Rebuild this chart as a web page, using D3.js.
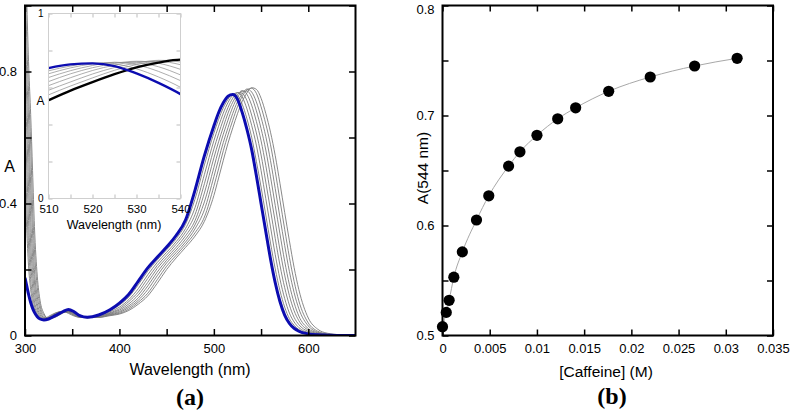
<!DOCTYPE html>
<html><head><meta charset="utf-8">
<script src="https://cdn.jsdelivr.net/npm/d3@7"></script>
<style>body{margin:0;background:#fff}</style>
</head><body>
<svg id="c" width="791" height="418"></svg>
<script>
// ---------- DATA: panel (a) absorption spectra ----------
const wavelengths = [300,302,304,306,308,310,313,316,320,325,332,340,346,352,358,366,378,390,
  400,410,420,430,440,450,460,470,480,490,500,
  505,510,515,520,525,530,535,540,545,550,555,560,565,570,575,580,585,590,
  600,610,620,635,650];
// first spectrum (no caffeine)
const spectrum0 = [1.25,1.00,0.81,0.67,0.50,0.33,0.18,0.105,0.067,0.051,0.055,0.068,0.074,0.071,0.062,0.055,0.055,0.060,
  0.065,0.076,0.095,0.120,0.158,0.200,0.235,0.267,0.301,0.346,0.424,
  0.477,0.531,0.583,0.629,0.672,0.709,0.735,0.751,0.746,0.719,0.673,0.616,0.545,0.461,0.373,0.287,0.206,0.139,
  0.053,0.019,0.007,0.002,0];
const spectrum1 = [1.09,0.88,0.72,0.58,0.39,0.26,0.145,0.09,0.062,0.051,0.057,0.069,0.073,0.069,0.061,0.055,0.055,0.062,
  0.067,0.080,0.101,0.128,0.169,0.210,0.243,0.275,0.311,0.359,0.452,
  0.505,0.560,0.608,0.652,0.693,0.724,0.744,0.749,0.734,0.693,0.641,0.578,0.497,0.410,0.322,0.237,0.164,0.105,
  0.038,0.013,0.005,0.0015,0];
const spectrum2 = [0.96,0.78,0.64,0.46,0.31,0.20,0.117,0.079,0.057,0.050,0.059,0.070,0.073,0.067,0.059,0.055,0.056,0.063,
  0.070,0.085,0.107,0.139,0.181,0.220,0.251,0.283,0.323,0.381,0.481,
  0.534,0.585,0.630,0.673,0.708,0.732,0.747,0.738,0.708,0.661,0.603,0.530,0.445,0.358,0.273,0.194,0.130,0.081,
  0.029,0.010,0.004,0.0012,0];
const spectrum3 = [0.85,0.70,0.54,0.36,0.24,0.162,0.097,0.070,0.054,0.051,0.061,0.072,0.072,0.066,0.058,0.054,0.057,0.065,
  0.073,0.090,0.114,0.150,0.192,0.228,0.259,0.292,0.335,0.405,0.509,
  0.562,0.610,0.653,0.692,0.721,0.740,0.741,0.723,0.681,0.627,0.562,0.481,0.394,0.308,0.225,0.154,0.099,0.059,
  0.021,0.008,0.003,0.001,0];
const spectrum4 = [0.75,0.61,0.43,0.28,0.19,0.13,0.084,0.063,0.052,0.052,0.063,0.073,0.072,0.064,0.057,0.054,0.057,0.067,
  0.077,0.096,0.123,0.161,0.203,0.236,0.267,0.302,0.348,0.432,0.538,
  0.587,0.632,0.674,0.707,0.730,0.742,0.731,0.698,0.649,0.590,0.515,0.430,0.344,0.259,0.183,0.121,0.075,0.045,
  0.016,0.006,0.002,0.0008,0];
const spectrum5 = [0.67,0.50,0.33,0.22,0.15,0.105,0.074,0.058,0.051,0.054,0.065,0.074,0.071,0.062,0.056,0.054,0.058,0.069,
  0.081,0.103,0.132,0.173,0.212,0.244,0.276,0.313,0.366,0.460,0.565,
  0.611,0.654,0.691,0.719,0.736,0.734,0.712,0.668,0.614,0.547,0.465,0.380,0.294,0.213,0.145,0.092,0.055,0.033,
  0.012,0.005,0.002,0.0006,0];
const spectrum6 = [0.58,0.39,0.26,0.17,0.121,0.09,0.066,0.055,0.050,0.055,0.067,0.073,0.069,0.061,0.055,0.054,0.059,0.072,
  0.086,0.109,0.142,0.184,0.221,0.252,0.284,0.324,0.387,0.488,0.590,
  0.634,0.674,0.706,0.728,0.736,0.723,0.687,0.637,0.577,0.500,0.415,0.329,0.245,0.171,0.112,0.068,0.041,0.024,
  0.009,0.004,0.002,0.0004,0];
const spectrum7 = [0.46,0.31,0.20,0.14,0.10,0.079,0.061,0.053,0.050,0.058,0.068,0.073,0.067,0.059,0.055,0.054,0.060,0.075,
  0.092,0.117,0.154,0.195,0.229,0.260,0.293,0.337,0.413,0.517,0.613,
  0.655,0.690,0.716,0.732,0.727,0.701,0.657,0.601,0.528,0.450,0.365,0.280,0.202,0.136,0.086,0.051,0.031,0.018,
  0.007,0.003,0.001,0.0002,0];
// final spectrum (blue)
const spectrum8 = [0.175,0.148,0.122,0.10,0.083,0.07,0.057,0.05,0.047,0.05,0.06,0.072,0.079,0.072,0.06,0.055,0.062,0.078,
  0.098,0.125,0.165,0.205,0.237,0.268,0.303,0.35,0.44,0.545,0.635,
  0.675,0.705,0.725,0.730,0.716,0.676,0.625,0.564,0.485,0.40,0.315,0.232,0.16,0.103,0.062,0.037,0.022,0.013,
  0.005,0.002,0.001,0,0];
const spectra = [spectrum0,spectrum1,spectrum2,spectrum3,spectrum4,spectrum5,spectrum6,spectrum7,spectrum8];

const xTicksA = [300,350,400,450,500,550,600];
const xLabelsA = [300,400,500,600];
const yTicksA = [0,0.2,0.4,0.6,0.8,1.0];
const yLabelsA = [0,0.4,0.8];
const xTicksInset = [510,515,520,525,530,535,540];
const xLabelsInset = [510,520,530,540];
const yTicksInset = [0,0.2,0.4,0.6,0.8,1.0];
const yLabelsInset = [0,1];

// ---------- DATA: panel (b) ----------
const caffeine = [0,0.0004,0.0007,0.0012,0.0021,0.0036,0.0049,0.0070,0.0082,0.0100,0.0122,0.0141,0.0176,0.0220,0.0267,0.0312];
const absorbance544 = [0.508,0.521,0.532,0.553,0.576,0.605,0.627,0.654,0.667,0.682,0.697,0.707,0.722,0.735,0.745,0.752];
const xTicksB = [0,0.005,0.01,0.015,0.02,0.025,0.03,0.035];
const xLabelsB = ["0","0.005","0.01","0.015","0.02","0.025","0.03","0.035"];
const yTicksB = [0.5,0.55,0.6,0.65,0.7,0.75,0.8];
const yLabelsB = [0.5,0.6,0.7,0.8];

// ---------- DRAW ----------
const FONT = "'Liberation Sans', Arial, Helvetica, sans-serif";
const svg = d3.select("#c");

function drawAxes(g, x, y, o) {
  const [x0,x1] = x.range(), [y0,y1] = y.range();
  const axes = [];
  axes.push(g.append("g").attr("transform",`translate(0,${y0})`)
    .call(d3.axisBottom(x).tickValues(o.xTicks).tickSize(-o.len).tickPadding(o.padX)
      .tickFormat(o.xFmt)));
  axes.push(g.append("g").attr("transform",`translate(0,${y1})`)
    .call(d3.axisTop(x).tickValues(o.xTicks).tickSize(-o.len).tickFormat("")));
  const left = g.append("g").attr("transform",`translate(${x0},0)`)
    .call(d3.axisLeft(y).tickValues(o.yTicks).tickSize(-o.len).tickPadding(o.padY)
      .tickFormat(o.yFmt));
  axes.push(left);
  axes.push(g.append("g").attr("transform",`translate(${x1},0)`)
    .call(d3.axisRight(y).tickValues(o.yTicks).tickSize(-o.len).tickFormat("")));
  axes.forEach(a => {
    a.select(".domain").remove();
    a.selectAll("line").attr("stroke",o.tickColor).attr("stroke-width",o.tickW);
    a.selectAll("text").attr("font-family",FONT).attr("font-size",o.fs).attr("fill","#000");
  });
  g.append("rect").attr("x",x0).attr("y",y1).attr("width",x1-x0).attr("height",y0-y1)
    .attr("fill","none").attr("stroke",o.frameColor).attr("stroke-width",o.frameW);
  return left;
}

// ---- Panel (a) ----
const xA = d3.scaleLinear().domain([300,650]).range([25,355.5]);
const yA = d3.scaleLinear().domain([0,1]).range([335.5,5.5]);
const gA = svg.append("g");
svg.append("defs").append("clipPath").attr("id","clipA").append("rect")
  .attr("x",25).attr("y",5.5).attr("width",330.5).attr("height",330);
const lineA = d3.line().x((d,i)=>xA(wavelengths[i])).y(d=>yA(d)).curve(d3.curveMonotoneX);
const curvesA = gA.append("g").attr("clip-path","url(#clipA)");
spectra.forEach((s,k) => {
  if (k === 8) return;
  curvesA.append("path").attr("d", lineA(s)).attr("fill","none")
    .attr("stroke","#7a7a7a").attr("stroke-width",0.9);
});
curvesA.append("path").attr("d", lineA(spectrum8)).attr("fill","none")
  .attr("stroke","#0c0cb0").attr("stroke-width",3);

drawAxes(gA, xA, yA, {xTicks:xTicksA, yTicks:yTicksA, len:6.5, padX:8, padY:8,
  xFmt: d => xLabelsA.includes(d) ? String(d) : "",
  yFmt: d => yLabelsA.some(v=>Math.abs(v-d)<1e-9) ? (d===0?"0":d.toFixed(1)) : "",
  tickColor:"#000", tickW:1.5, fs:13, frameColor:"#000", frameW:2});

gA.append("text").attr("x",190).attr("y",375).attr("text-anchor","middle")
  .attr("font-family",FONT).attr("font-size",16).text("Wavelength (nm)");
gA.append("text").attr("x",9.5).attr("y",172).attr("text-anchor","middle")
  .attr("font-family",FONT).attr("font-size",16).text("A");
gA.append("text").attr("x",190).attr("y",405).attr("text-anchor","middle")
  .attr("font-family","'Liberation Serif','Times New Roman',serif").attr("font-weight","bold")
  .attr("font-size",24).text("(a)");

// ---- Inset ----
const xI = d3.scaleLinear().domain([510,540]).range([48.5,180.5]);
const yI = d3.scaleLinear().domain([0,1]).range([198.5,13.5]);
const gI = svg.append("g");
gI.append("rect").attr("x",48.5).attr("y",13.5).attr("width",132).attr("height",185).attr("fill","#fff");
svg.select("defs").append("clipPath").attr("id","clipI").append("rect")
  .attr("x",48.5).attr("y",13.5).attr("width",132).attr("height",185);
const lineI = d3.line().x((d,i)=>xI(wavelengths[i])).y(d=>yI(d)).curve(d3.curveMonotoneX);
const curvesI = gI.append("g").attr("clip-path","url(#clipI)");
spectra.forEach((s,k) => {
  if (k === 0 || k === 8) return;
  curvesI.append("path").attr("d", lineI(s)).attr("fill","none")
    .attr("stroke","#8a8a8a").attr("stroke-width",0.7);
});
curvesI.append("path").attr("d", lineI(spectrum0)).attr("fill","none")
  .attr("stroke","#000").attr("stroke-width",2.3);
curvesI.append("path").attr("d", lineI(spectrum8)).attr("fill","none")
  .attr("stroke","#0c0cb0").attr("stroke-width",2.3);
const leftI = drawAxes(gI, xI, yI, {xTicks:xTicksInset, yTicks:yTicksInset, len:4, padX:6, padY:5,
  xFmt: d => xLabelsInset.includes(d) ? String(d) : "",
  yFmt: d => yLabelsInset.some(v=>Math.abs(v-d)<1e-9) ? String(d) : "",
  tickColor:"#bdbdbd", tickW:1, fs:11.5, frameColor:"#cfcfcf", frameW:1});
leftI.selectAll("text").attr("font-size",10);
gI.append("text").attr("x",114).attr("y",229).attr("text-anchor","middle")
  .attr("font-family",FONT).attr("font-size",12.5).text("Wavelength (nm)");
gI.append("text").attr("x",40.5).attr("y",105).attr("text-anchor","middle")
  .attr("font-family",FONT).attr("font-size",12).text("A");

// ---- Panel (b) ----
const xB = d3.scaleLinear().domain([0,0.035]).range([442.5,773]);
const yB = d3.scaleLinear().domain([0.5,0.8]).range([335.5,5.5]);
const gB = svg.append("g");
const pts = caffeine.map((c,i)=>[c,absorbance544[i]]);
gB.append("path").attr("d", d3.line().x(d=>xB(d[0])).y(d=>yB(d[1])).curve(d3.curveMonotoneX)(pts))
  .attr("fill","none").attr("stroke","#a8a8a8").attr("stroke-width",1);
const leftB = drawAxes(gB, xB, yB, {xTicks:xTicksB, yTicks:yTicksB, len:6, padX:8, padY:8,
  xFmt: (d,i) => xLabelsB[i],
  yFmt: d => yLabelsB.some(v=>Math.abs(v-d)<1e-9) ? d.toFixed(1) : "",
  tickColor:"#000", tickW:1.5, fs:13, frameColor:"#000", frameW:2});
leftB.selectAll("text").filter(function(){ return this.textContent === "0.8"; }).attr("dy","0.6em");
gB.selectAll("circle.pt").data(pts).join("circle").attr("class","pt")
  .attr("cx",d=>xB(d[0])).attr("cy",d=>yB(d[1])).attr("r",5.6).attr("fill","#000");
gB.append("text").attr("x",606).attr("y",377).attr("text-anchor","middle")
  .attr("font-family",FONT).attr("font-size",15.5).text("[Caffeine] (M)");
gB.append("text").attr("transform","translate(428,168) rotate(-90)").attr("text-anchor","middle")
  .attr("font-family",FONT).attr("font-size",15.5).text("A(544 nm)");
gB.append("text").attr("x",612).attr("y",404).attr("text-anchor","middle")
  .attr("font-family","'Liberation Serif','Times New Roman',serif").attr("font-weight","bold")
  .attr("font-size",24).text("(b)");
</script>
</body></html>
